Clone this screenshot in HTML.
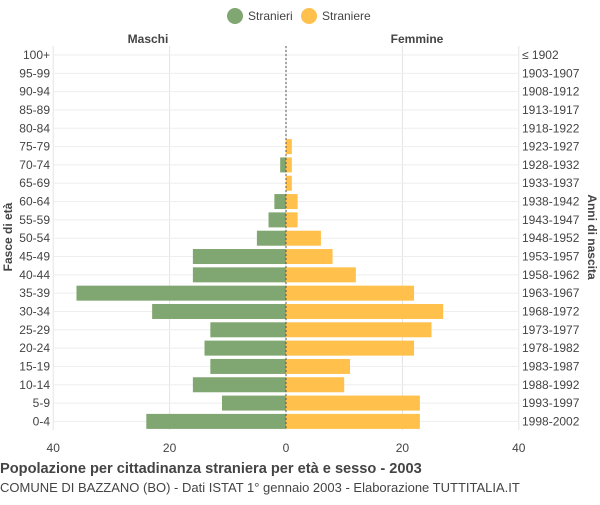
<!DOCTYPE html>
<html><head><meta charset="utf-8"><style>
body{margin:0;background:#fff;font-family:"Liberation Sans",sans-serif}
svg text{font-family:"Liberation Sans",sans-serif}
</style></head><body>
<svg id="c" width="600" height="500">
<g>
<circle cx="235" cy="16" r="8" fill="#80a671"/>
<text x="248" y="20" font-size="12" fill="#444">Stranieri</text>
<circle cx="309" cy="16" r="8" fill="#ffc04c"/>
<text x="322" y="20" font-size="12" fill="#444">Straniere</text>
</g>
<text x="148" y="43" font-size="12" font-weight="bold" fill="#444" text-anchor="middle">Maschi</text>
<text x="417" y="43" font-size="12" font-weight="bold" fill="#444" text-anchor="middle">Femmine</text>
<g id="grid"></g><g id="bars"></g><g id="labels"></g>
<text x="12" y="237" font-size="12" font-weight="bold" fill="#444" text-anchor="middle" transform="rotate(-90 12 237)">Fasce di età</text>
<text x="588" y="237" font-size="12" font-weight="bold" fill="#444" text-anchor="middle" transform="rotate(90 588 237)">Anni di nascita</text>
<text x="0" y="473" font-size="14.6" font-weight="bold" fill="#444">Popolazione per cittadinanza straniera per età e sesso - 2003</text>
<text x="0" y="492" font-size="13" fill="#444">COMUNE DI BAZZANO (BO) - Dati ISTAT 1° gennaio 2003 - Elaborazione TUTTITALIA.IT</text>
</svg>
<script>
const ages=["100+","95-99","90-94","85-89","80-84","75-79","70-74","65-69","60-64","55-59","50-54","45-49","40-44","35-39","30-34","25-29","20-24","15-19","10-14","5-9","0-4"];
const births=["≤ 1902","1903-1907","1908-1912","1913-1917","1918-1922","1923-1927","1928-1932","1933-1937","1938-1942","1943-1947","1948-1952","1953-1957","1958-1962","1963-1967","1968-1972","1973-1977","1978-1982","1983-1987","1988-1992","1993-1997","1998-2002"];
const males=[0,0,0,0,0,0,1,0,2,3,5,16,16,36,23,13,14,13,16,11,24];
const females=[0,0,0,0,0,1,1,1,2,2,6,8,12,22,27,25,22,11,10,23,23];
const xTicks=[-40,-20,0,20,40];
const NS="http://www.w3.org/2000/svg";
const x=v=>286+v*5.82;
const y=i=>55+i*18.32;
function mk(p,t,a){const e=document.createElementNS(NS,t);for(const k in a)e.setAttribute(k,a[k]);document.getElementById(p).appendChild(e);return e;}
xTicks.forEach(t=>{
 const g=mk('grid','line',{x1:x(t),x2:x(t),y1:46,y2:430,stroke:'#e4e4e4'});
 
 
 const l=mk('labels','text',{x:x(t),y:452,'font-size':12,fill:'#444','text-anchor':'middle'});
 l.textContent=Math.abs(t);
 
 
});
ages.forEach((a,i)=>{
 const gl=mk('grid','line',{x1:54,x2:518,y1:y(i),y2:y(i),stroke:'#eeeeee'});
 
 
 const m=mk('bars','rect',{x:x(-males[i]),y:y(i)-7.5,width:x(0)-x(-males[i]),height:15,fill:'#80a671'});
 
 
 const f=mk('bars','rect',{x:x(0),y:y(i)-7.5,width:x(females[i])-x(0),height:15,fill:'#ffc04c'});
 
 
 const t=mk('labels','text',{x:50,y:y(i)+4,'font-size':12,fill:'#444','text-anchor':'end'});
 t.textContent=a;
 
 
 const b=mk('labels','text',{x:522,y:y(i)+4,'font-size':12,fill:'#444'});
 b.textContent=births[i];
 
 
});
const c=mk('bars','line',{x1:286,x2:286,y1:46,y2:430,stroke:'#555','stroke-dasharray':'2,2'});


</script>
</body></html>
